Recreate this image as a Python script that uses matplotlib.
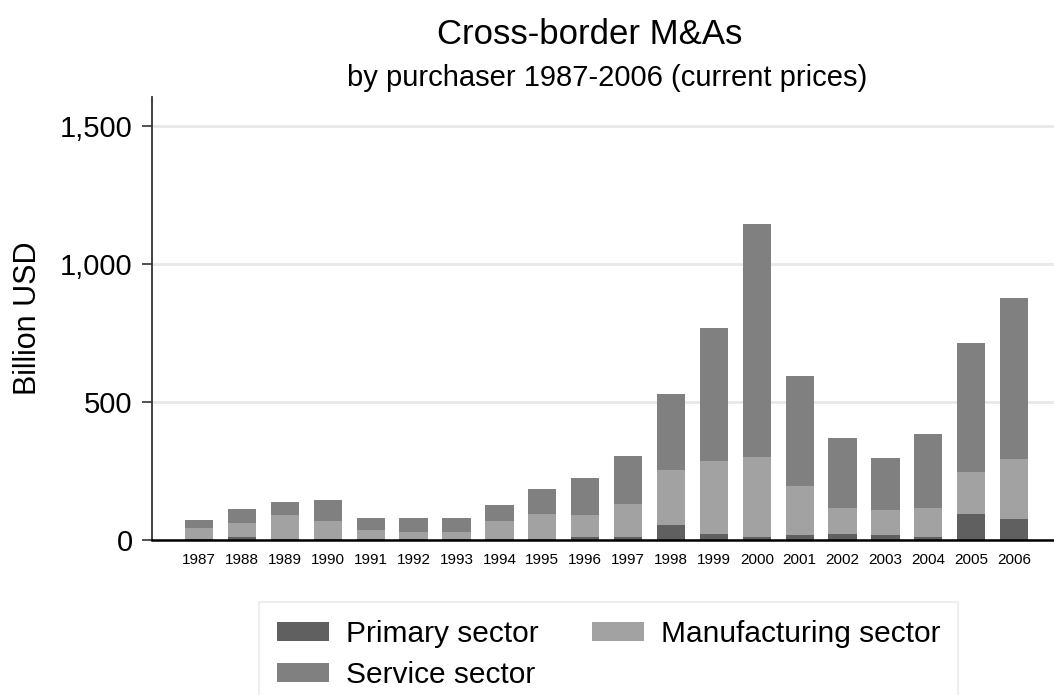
import numpy as np
import matplotlib.pyplot as plt

plt.rcParams['font.family'] = ['Liberation Sans', 'DejaVu Sans']

# Cross-border M&As by sector, billion USD
years = [str(y) for y in range(1987, 2007)]
primary = [2, 12, 3, 3, 2, 2, 2, 3, 3, 12, 10, 54, 22, 10, 18, 23, 18, 10, 94, 76]
manufacturing = [43, 51, 88, 67, 34, 27, 27, 67, 91, 79, 120, 200, 264, 291, 178, 93, 91, 106, 152, 217]
service = [29, 51, 48, 76, 44, 51, 51, 56, 91, 134, 174, 274, 481, 843, 398, 255, 188, 267, 468, 585]

yticks = [0, 500, 1000, 1500]
ytick_labels = ['0', '500', '1,000', '1,500']

fig = plt.figure(figsize=(10.54, 6.95), dpi=100)
ax = fig.add_axes([152 / 1054, 1 - 540 / 695, 1 - 152 / 1054, (540 - 97) / 695])

x = np.arange(len(years))
w = 0.66
p = np.array(primary)
m = np.array(manufacturing)
s = np.array(service)

b1 = ax.bar(x, p, w, color='#606060', zorder=3)
b2 = ax.bar(x, m, w, bottom=p, color='#a2a2a2', zorder=3)
b3 = ax.bar(x, s, w, bottom=p + m, color='#808080', zorder=3)

ax.set_xlim(-1.1, 19.93)
ax.set_ylim(0, 1605)
ax.set_xticks(x)
ax.set_xticklabels(years, fontsize=11)
ax.tick_params(axis='x', length=0, pad=9)
ax.set_yticks(yticks)
ax.set_yticklabels(ytick_labels, fontsize=21)
ax.tick_params(axis='y', length=7, width=1.2, pad=7, color='#333333')
ax.grid(axis='y', color='#e8e8e8', linewidth=2, zorder=0)

for side in ['top', 'right']:
    ax.spines[side].set_visible(False)
ax.spines['left'].set_color('#333333')
ax.spines['left'].set_linewidth(1.3)
ax.spines['bottom'].set_color('black')
ax.spines['bottom'].set_linewidth(1.8)
ax.spines['bottom'].set_zorder(4)

ax.set_ylabel('Billion USD', fontsize=22, labelpad=12)

fig.text(590 / 1054, 1 - 35 / 695, 'Cross-border M&As', fontsize=25, ha='center', va='center')
fig.text(607 / 1054, 1 - 78 / 695, 'by purchaser 1987-2006 (current prices)', fontsize=21,
         ha='center', va='center')

leg = fig.legend([b1, b3, b2], ['Primary sector', 'Service sector', 'Manufacturing sector'],
                 ncol=2, loc='upper left', bbox_to_anchor=(259 / 1054, 1 - 602 / 695),
                 borderaxespad=0, fontsize=21.5, fancybox=False, frameon=True,
                 edgecolor='#e6e6e6', handlelength=1.75, handleheight=0.6,
                 handletextpad=0.55, columnspacing=1.8, labelspacing=0.45, borderpad=0.6)
leg.get_frame().set_linewidth(1.2)

fig.savefig('out.png', dpi=100)
